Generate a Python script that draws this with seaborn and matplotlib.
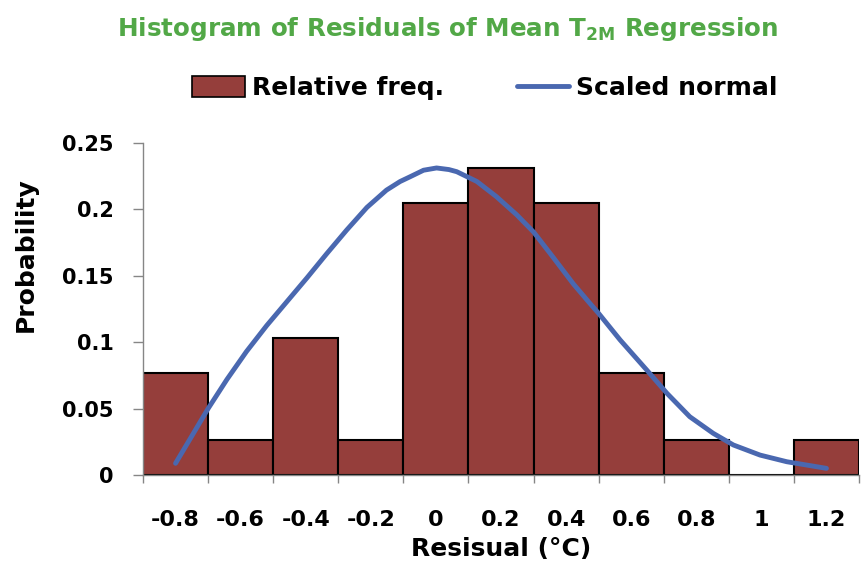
import numpy as np
import pandas as pd
import seaborn as sns
import matplotlib.pyplot as plt
from matplotlib.patches import Patch
from matplotlib.lines import Line2D

# histogram bins (category labels) and relative frequencies
bins = ["-0.8", "-0.6", "-0.4", "-0.2", "0", "0.2", "0.4", "0.6", "0.8", "1", "1.2"]
rel_freq = [0.077, 0.026, 0.103, 0.026, 0.205, 0.231, 0.205, 0.077, 0.026, 0.0, 0.026]

# scaled normal curve (x in bin-index units, 0 = first bin)
curve_pos = [0.0, 0.27, 0.50, 0.79, 1.09, 1.40, 1.71, 2.02, 2.32, 2.63, 2.94, 3.24, 3.45,
             3.60, 3.81, 4.01, 4.20, 4.32, 4.63, 4.93, 5.24, 5.50, 5.80, 6.11, 6.37, 6.50,
             6.83, 7.24, 7.55, 7.90, 8.26, 8.57, 8.98, 9.39, 10.0]
curve_val = [0.0088, 0.031, 0.050, 0.072, 0.093, 0.1125, 0.1305, 0.1485, 0.1665, 0.1845,
             0.2015, 0.2145, 0.221, 0.2245, 0.2295, 0.2312, 0.2300, 0.2284, 0.221, 0.2096,
             0.196, 0.183, 0.164, 0.144, 0.129, 0.1217, 0.1017, 0.079, 0.0615, 0.0439,
             0.0314, 0.0226, 0.015, 0.010, 0.005]

sns.set_style("white")
plt.rcParams['font.family'] = ['DejaVu Sans']
plt.rcParams['font.weight'] = 'bold'
plt.rcParams['mathtext.fontset'] = 'dejavusans'
plt.rcParams['text.color'] = 'black'
plt.rcParams['axes.labelcolor'] = 'black'

bar_col = "#953e3b"
line_col = "#4a68b0"
axis_col = "#868686"

df = pd.DataFrame({"bin": bins, "freq": rel_freq})
curve = pd.DataFrame({"pos": curve_pos, "val": curve_val})

fig = plt.figure(figsize=(8.61, 5.68), dpi=100)
ax = fig.add_axes([143 / 861, 1 - 475 / 568, (859 - 143) / 861, (475 - 143) / 568])

sns.barplot(data=df, x="bin", y="freq", color=bar_col, width=1.0, saturation=1,
            edgecolor="black", linewidth=1.5, ax=ax)
sns.lineplot(data=curve, x="pos", y="val", color=line_col, linewidth=3.5, ax=ax)
ax.lines[-1].set_solid_capstyle("round")
ax.lines[-1].set_solid_joinstyle("round")

ax.set_xlim(-0.5, 10.5)
ax.set_ylim(0, 0.25)
ax.set_yticks([0, 0.05, 0.1, 0.15, 0.2, 0.25])
ax.set_yticklabels(["0", "0.05", "0.1", "0.15", "0.2", "0.25"])
ax.set_xticks(range(len(bins)))
ax.set_xticklabels(bins)
ax.set_xticks(np.arange(-0.5, 11, 1), minor=True)
ax.tick_params(axis="x", which="major", length=0, pad=25, labelsize=16, labelcolor="black")
ax.tick_params(axis="x", which="minor", length=6, color=axis_col, width=1)
ax.tick_params(axis="y", length=7, color=axis_col, width=1, labelsize=15, pad=14,
               labelcolor="black")
ax.yaxis.set_ticks_position("left")
ax.xaxis.set_ticks_position("bottom")

for s in ["top", "right"]:
    ax.spines[s].set_visible(False)
for s in ["left", "bottom"]:
    ax.spines[s].set_color(axis_col)
    ax.spines[s].set_linewidth(1)

ax.set_xlabel("Resisual (\u00b0C)", fontsize=18, fontweight="bold", labelpad=5)
ax.set_ylabel("Probability", fontsize=18, fontweight="bold")
ax.yaxis.set_label_coords(-0.147, 0.663)

fig.text(448 / 861, 1 - 29 / 568, r"Histogram of Residuals of Mean T$_{\mathbf{2M}}$ Regression",
         ha="center", va="center", color="#52a847", fontsize=17.7, fontweight="bold")

handles = [Patch(facecolor=bar_col, edgecolor="black", linewidth=1.2),
           Line2D([0], [0], color=line_col, linewidth=3.5)]
fig.legend(handles, ["Relative freq.", "Scaled normal"], loc="center",
           bbox_to_anchor=(485 / 861, 1 - 88 / 568), ncol=2, frameon=False,
           fontsize=18, handlelength=2.1, handleheight=0.9, columnspacing=2.9,
           handletextpad=0.3)

fig.savefig("out.png", dpi=100)
